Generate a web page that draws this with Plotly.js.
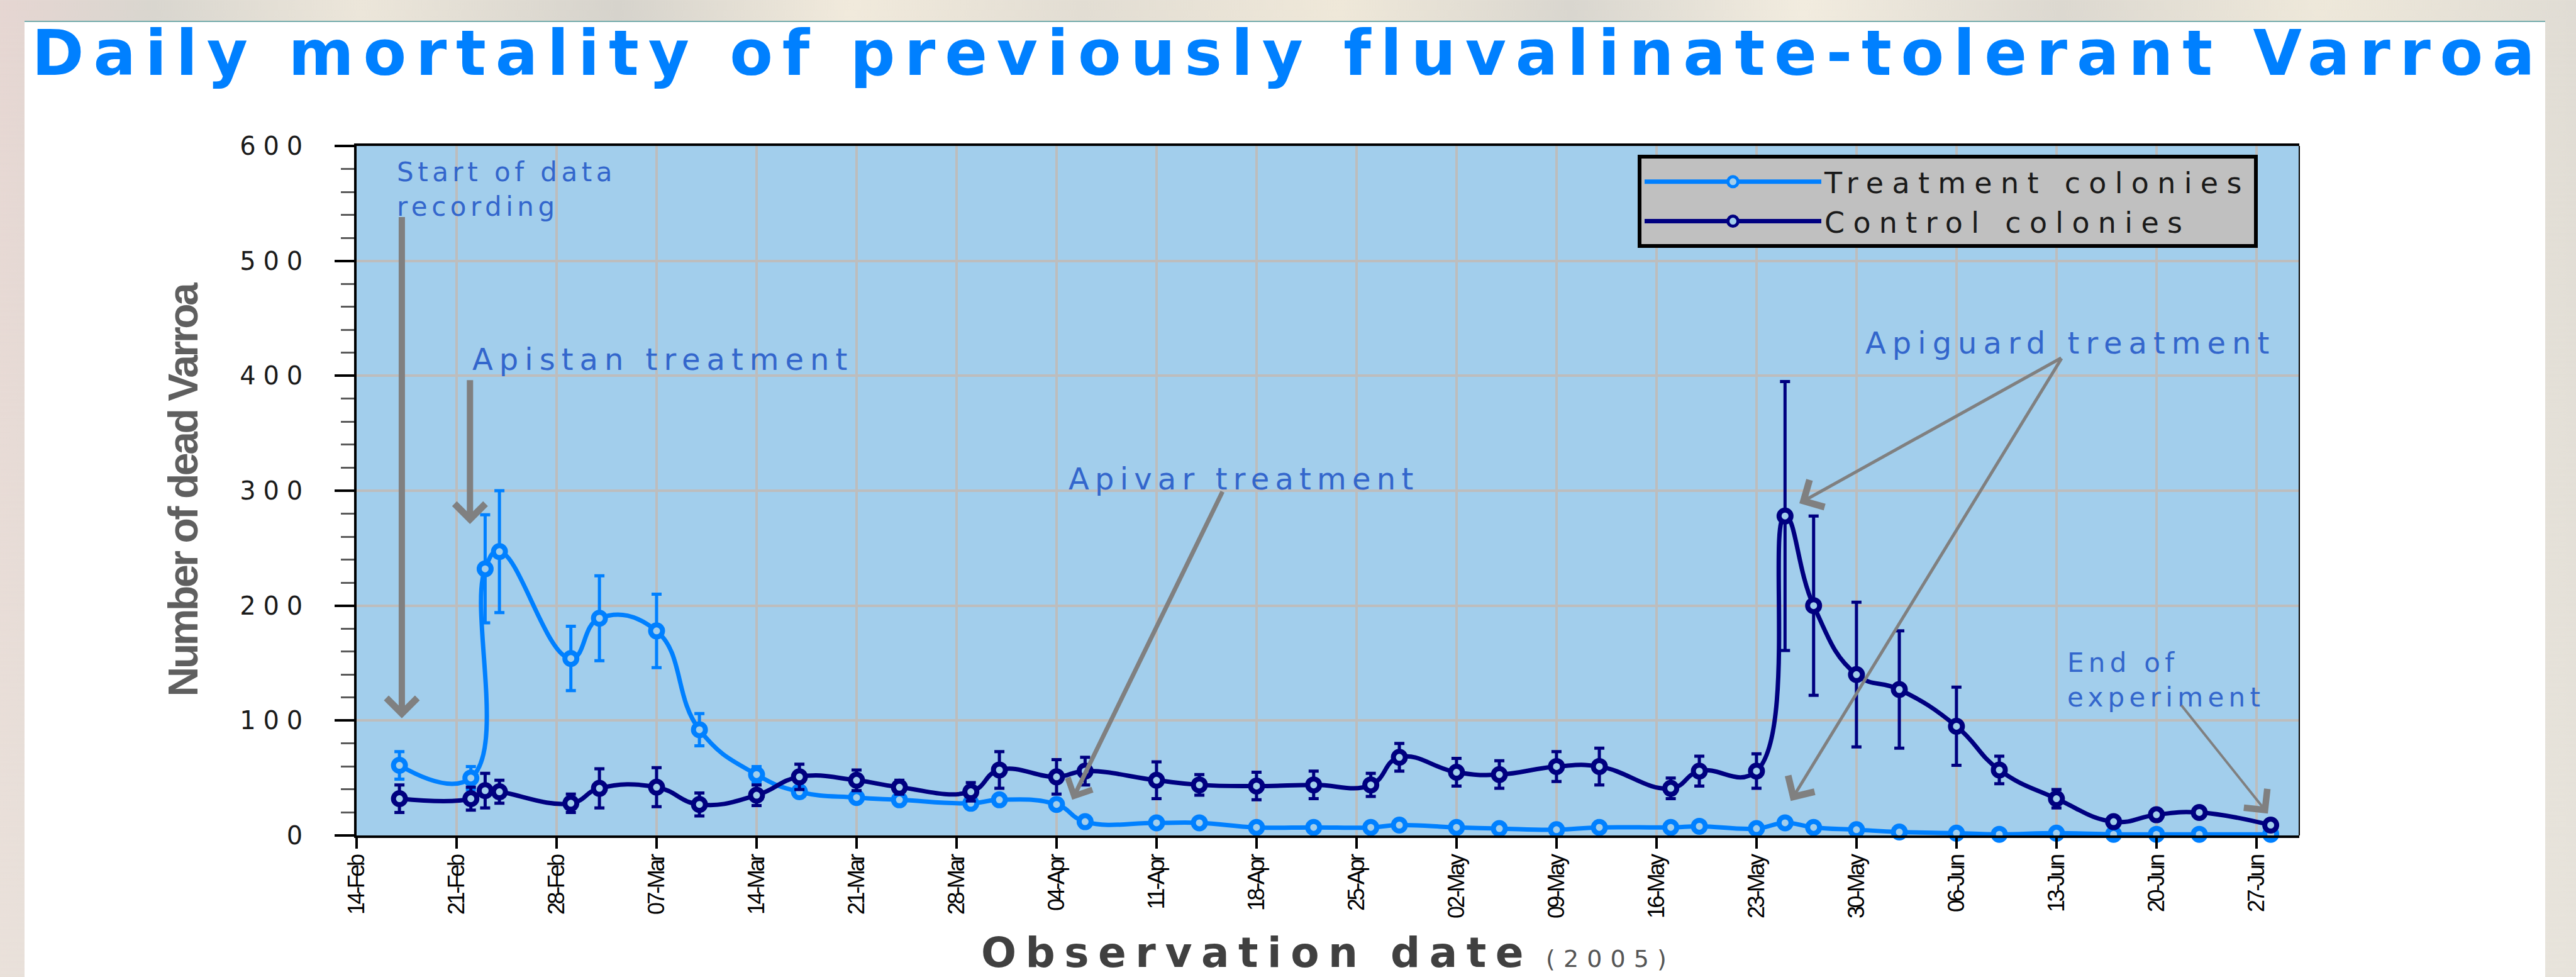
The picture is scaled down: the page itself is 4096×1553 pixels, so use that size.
<!DOCTYPE html>
<html>
<head>
<meta charset="utf-8">
<script src="https://cdn.plot.ly/plotly-3.0.1.min.js"></script>
<style>
html, body { margin:0; padding:0; width:4096px; height:1553px; overflow:hidden; }
body {
  background:
    linear-gradient(180deg, rgba(255,255,255,0) 0%, rgba(236,232,224,0.6) 100%),
    linear-gradient(90deg, #e6d6d2 0%, #d9d6cf 6%, #ece6da 14%, #d6d3cc 24%, #f1eadc 33%, #e2ddd3 42%, #efe8d9 52%, #d9d6cf 61%, #f2ecdf 70%, #dcd8d0 80%, #eee8da 90%, #e0dcd4 100%);
}
#panel { position:absolute; left:39px; top:33px; width:4008px; height:1520px; background:#ffffff; border-top:2px solid #74abab; }
#chart { position:absolute; left:0; top:0; width:4096px; height:1553px; }
</style>
</head>
<body>
<div id="panel"></div>
<div id="chart"></div>
<script>
// ---------------- data ----------------
const obsDates = ['2005-02-17','2005-02-22','2005-02-23','2005-02-24','2005-03-01','2005-03-03','2005-03-07','2005-03-10','2005-03-14','2005-03-17',
                  '2005-03-21','2005-03-24','2005-03-29','2005-03-31','2005-04-04','2005-04-06','2005-04-11','2005-04-14','2005-04-18','2005-04-22',
                  '2005-04-26','2005-04-28','2005-05-02','2005-05-05','2005-05-09','2005-05-12','2005-05-17','2005-05-19','2005-05-23','2005-05-25',
                  '2005-05-27','2005-05-30','2005-06-02','2005-06-06','2005-06-09','2005-06-13','2005-06-17','2005-06-20','2005-06-23','2005-06-28'];
const treatMean = [61,50,232,247,154,189,178,92,53,38, 33,31,28,31,27,12,11,11,7,7, 7,9,7,6,5,7,7,8,6,11, 7,5,3,2,1,2,1,1,1,1];
const treatErr  = [12,10,47,53,28,37,32,14,7,4, 3,3,3,3,4,3,2,2,2,2, 2,2,2,2,2,2,2,2,2,3, 2,2,1,1,1,1,1,1,1,1];
const ctrlMean  = [32,32,39,38,28,41,42,27,35,51, 48,42,38,57,51,56,48,44,43,44, 44,68,55,53,60,60,41,56,56,278, 200,140,127,95,57,32,12,18,20,9];
const ctrlErr   = [12,10,15,10,8,17,17,10,9,11, 9,6,8,16,15,12,16,9,12,12, 10,12,12,12,13,16,9,13,15,117, 78,63,51,34,12,8,3,3,3,3];
const seriesNames = ['Treatment colonies', 'Control colonies'];

const xTickVals = ['2005-02-14','2005-02-21','2005-02-28','2005-03-07','2005-03-14','2005-03-21','2005-03-28','2005-04-04','2005-04-11','2005-04-18',
                   '2005-04-25','2005-05-02','2005-05-09','2005-05-16','2005-05-23','2005-05-30','2005-06-06','2005-06-13','2005-06-20','2005-06-27'];
const xTickText = ['14-Feb','21-Feb','28-Feb','07-Mar','14-Mar','21-Mar','28-Mar','04-Apr','11-Apr','18-Apr',
                   '25-Apr','02-May','09-May','16-May','23-May','30-May','06-Jun','13-Jun','20-Jun','27-Jun'];
const yTickVals = [0,100,200,300,400,500,600];
const yTickText = ['0','100','200','300','400','500','600'];

const titleText = 'Daily mortality of previously fluvalinate-tolerant Varroa';
const yTitleText = 'Number of dead Varroa';
const xTitleText = 'Observation date';
const xTitleYear = '(2005)';

// annotation texts and anchor positions (date, value)
const noteText = [['Start of data','recording'], ['Apistan treatment'], ['Apivar treatment'], ['Apiguard treatment'], ['End of','experiment']];
const noteX = ['2005-02-16 17:31','2005-02-22 00:15','2005-04-04 18:15','2005-05-30 13:00','2005-06-13 15:36'];
const noteY = [592, 431, 327, 445, 165];

// arrows: head (x,y) and tail (ax,ay)
const arrowHeadX = ['2005-02-17 04:00','2005-02-21 22:30','2005-04-05 02:24','2005-05-26 00:00','2005-05-25 09:36','2005-06-27 19:12'];
const arrowHeadY = [102, 271, 31, 289, 30, 19];
const arrowTailX = ['2005-02-17 04:00','2005-02-21 22:30','2005-04-15 15:36','2005-06-13 09:36','2005-06-13 09:36','2005-06-21 16:48'];
const arrowTailY = [539, 397, 300, 416, 416, 114];
const arrowWidth = [10, 10, 7, 5, 5, 4];
const arrowSize  = [0.95, 0.95, 1.2, 1.9, 1.9, 2.3];

// ---------------- styling ----------------
const treatColor = '#0080FF';
const ctrlColor = '#000080';
const plotBg = '#A2CEEC';
const gridColor = '#BDBDBD';
const noteColor = '#3366CC';
const arrowColor = '#808080';

// text-width helpers (the reference text is drawn horizontally stretched; spacing reproduces its extent)
const measureCtx = document.createElement('canvas').getContext('2d');
function textWidth(text, family, weight, size) {
  measureCtx.font = weight + ' ' + size + 'px "' + family + '", sans-serif';
  return measureCtx.measureText(text).width;
}
function spacingFor(text, family, weight, size, target) {
  return Math.round(((target - textWidth(text, family, weight, size)) / Math.max(1, text.length - 1)) * 10) / 10;
}
function ls(text, px) { return '<span style="letter-spacing:' + px + 'px">' + text + '</span>'; }

// sizes (px in the rendered window)
const titleSize = 100, titleSpacing = spacingFor(titleText, 'DejaVu Sans', 'bold', titleSize, 3977);
const legendSize = 46, legendSpacing = spacingFor(seriesNames[0], 'DejaVu Sans', 'normal', legendSize, 663);
const noteSize = [42, 48, 48, 48, 42];
const noteTarget = [342, 596, 548, 642, 307];
const noteRef = ['Start of data', 'Apistan treatment', 'Apivar treatment', 'Apiguard treatment', 'experiment'];
const noteSpacing = noteRef.map(function(t, i) { return spacingFor(t, 'DejaVu Sans', 'normal', noteSize[i], noteTarget[i]); });
const xTitleSpacing = spacingFor(xTitleText, 'DejaVu Sans', 'bold', 66, 862);
const yearSpacing = spacingFor(xTitleYear, 'DejaVu Sans', 'normal', 38, 192);
const yTickSpacing = spacingFor('600', 'DejaVu Sans', 'normal', 40, 100);
const xTickSpacing = spacingFor('14-Feb', 'Liberation Sans', 'normal', 36, 97);

// y-axis title: condensed face if installed
let yTitleFamily = 'Liberation Sans', yTitleSize = 66;
if (textWidth(yTitleText, 'Liberation Sans Narrow', 'bold', 100) < 0.9 * textWidth(yTitleText, 'Liberation Sans', 'bold', 100)) {
  yTitleFamily = 'Liberation Sans Narrow'; yTitleSize = 76;
}
const yTitleSpacing = spacingFor(yTitleText, yTitleFamily, 'bold', yTitleSize, 658);

function seriesTrace(name, y, err, color) {
  return {
    type: 'scatter', mode: 'lines+markers', x: obsDates, y: y, name: ls(name, legendSpacing),
    line: { color: color, width: 7, shape: 'spline', smoothing: 1.3 },
    marker: { symbol: 'circle', size: 19, color: plotBg, line: { color: color, width: 8 } },
    error_y: { type: 'data', array: err, visible: true, color: color, thickness: 5, width: 8 },
    cliponaxis: false
  };
}

const traces = [
  seriesTrace(seriesNames[0], treatMean, treatErr, treatColor),
  seriesTrace(seriesNames[1], ctrlMean, ctrlErr, ctrlColor)
];

const annotations = [];
noteText.forEach(function(lines, i) {
  annotations.push({
    x: noteX[i], y: noteY[i], xref: 'x', yref: 'y', xanchor: 'left', yanchor: 'top', align: 'left',
    showarrow: false,
    text: lines.map(function(t) { return ls(t, noteSpacing[i]); }).join('<br>'),
    font: { family: 'DejaVu Sans', size: noteSize[i], color: noteColor }
  });
});
arrowHeadX.forEach(function(hx, i) {
  annotations.push({
    x: hx, y: arrowHeadY[i], ax: arrowTailX[i], ay: arrowTailY[i],
    xref: 'x', yref: 'y', axref: 'x', ayref: 'y',
    text: '', showarrow: true, arrowhead: 4, arrowsize: arrowSize[i], arrowwidth: arrowWidth[i],
    arrowcolor: arrowColor, standoff: 0, startstandoff: 0
  });
});

const layout = {
  width: 4096, height: 1553,
  margin: { l: 567, r: 440, t: 232, b: 225, pad: 0 },
  paper_bgcolor: 'rgba(0,0,0,0)',
  plot_bgcolor: plotBg,
  showlegend: true,
  title: {
    text: ls('<b>' + titleText + '</b>', titleSpacing),
    font: { family: 'DejaVu Sans', size: titleSize, color: '#0080FF' },
    x: 0.5, xref: 'container', xanchor: 'center',
    y: 1 - 49 / 1553, yref: 'container', yanchor: 'top'
  },
  xaxis: {
    type: 'date', range: ['2005-02-14', '2005-06-30'],
    tickmode: 'array', tickvals: xTickVals, ticktext: xTickText.map(function(t) { return ls(t, xTickSpacing); }), tickangle: -90,
    ticks: 'outside', ticklen: 17, tickwidth: 4, tickcolor: '#000',
    tickfont: { family: 'Liberation Sans', size: 36, color: '#000' },
    ticklabelstandoff: -3,
    showgrid: true, gridcolor: gridColor, gridwidth: 4,
    showline: true, linecolor: '#000', linewidth: 4, mirror: true, zeroline: false,
    title: {
      text: ls('<b>' + xTitleText + '</b>', xTitleSpacing) + ' <span style="font-size:38px;letter-spacing:' + yearSpacing + 'px;color:#555555">' + xTitleYear + '</span>',
      font: { family: 'DejaVu Sans', size: 66, color: '#404040' },
      standoff: 33
    }
  },
  yaxis: {
    range: [0, 600],
    tickmode: 'array', tickvals: yTickVals, ticktext: yTickText.map(function(t) { return ls(t, yTickSpacing); }),
    ticks: 'outside', ticklen: 31, tickwidth: 4, tickcolor: '#000',
    tickfont: { family: 'DejaVu Sans', size: 40, color: '#1A1A1A' },
    ticklabelstandoff: 31,
    minor: { tickmode: 'linear', tick0: 0, dtick: 20, ticks: 'outside', ticklen: 21, tickwidth: 3, tickcolor: '#5A5A5A', showgrid: false },
    showgrid: true, gridcolor: gridColor, gridwidth: 4,
    showline: true, linecolor: '#000', linewidth: 4, mirror: false, zeroline: false,
    title: {
      text: ls('<b>' + yTitleText + '</b>', yTitleSpacing),
      font: { family: yTitleFamily, size: yTitleSize, color: '#5F5F5F' },
      standoff: 46
    }
  },
  legend: {
    x: (2604 - 567) / 3089, xanchor: 'left', y: (1327.6 - 246) / 1096, yanchor: 'top',
    bgcolor: '#C0C0C0', bordercolor: '#000', borderwidth: 6,
    font: { family: 'DejaVu Sans', size: legendSize, color: '#1A1A1A' },
    itemwidth: 281, traceorder: 'normal'
  },
  annotations: annotations,
  shapes: [
    { type: 'line', xref: 'paper', yref: 'paper', x0: 1, x1: 1, y0: 0, y1: 1, line: { color: '#000', width: 2 } },
    { type: 'line', xref: 'paper', yref: 'paper', x0: -0.0104, x1: 0, y0: 0, y1: 0, line: { color: '#000', width: 4 } },
    { type: 'line', xref: 'paper', yref: 'paper', x0: -0.0104, x1: 0, y0: 1, y1: 1, line: { color: '#000', width: 4 } }
  ]
};

Plotly.newPlot('chart', traces, layout, { staticPlot: true, displayModeBar: false });
</script>
</body>
</html>
